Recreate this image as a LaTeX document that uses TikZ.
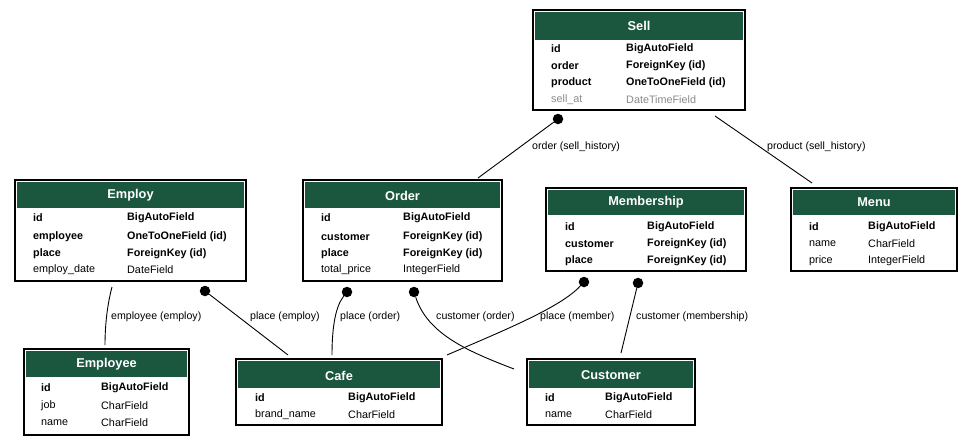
\documentclass[tikz,border=0pt]{standalone}
\usepackage{fontspec}
\setmainfont{Liberation Sans}
\definecolor{hdrgreen}{HTML}{1B563F}
\definecolor{dimtext}{HTML}{8A8A8A}
\tikzset{
  tbl/.style={draw=black, line width=1.2pt, fill=white, inner sep=0pt, outer sep=0pt},
  hdr/.style={fill=hdrgreen},
  htext/.style={text=white, font=\fontsize{12.8}{14}\selectfont\bfseries, anchor=center, inner sep=0pt, yshift=-0.5pt},
  fk/.style={font=\fontsize{10.8}{12}\selectfont\bfseries, anchor=west, inner sep=0pt, yshift=-1pt},
  fn/.style={font=\fontsize{10.8}{12}\selectfont, anchor=west, inner sep=0pt, yshift=-1pt},
  fg/.style={font=\fontsize{10.8}{12}\selectfont, text=dimtext, anchor=west, inner sep=0pt, yshift=-1pt},
  elabel/.style={font=\fontsize{10.6}{12}\selectfont, anchor=west, inner sep=0pt, yshift=-0.5pt},
  dot/.style={circle, fill=black, minimum size=10.5pt, inner sep=0pt},
  conn/.style={draw=black, line width=0.9pt},
}
\newcommand{\ertable}[6]{%
  \node[tbl, minimum width={#4-#2}, minimum height={#5-#3}, anchor=north west] (#1) at (#2,#3) {};
  \fill[hdr] (#2+2.2,#3+2.2) rectangle (#4-2.2,#6);
}
\begin{document}
\begin{tikzpicture}[x=1pt,y=-1pt]
\useasboundingbox (0,0) rectangle (973,445);

% Sell
\ertable{sell}{533}{10}{745}{110}{40}
\node[htext] (sellh) at (639,25) {Sell};
\node[fk] (sell1a) at (551,48) {id};        \node[fk] (sell1b) at (626,48) {BigAutoField};
\node[fk] (sell2a) at (551,65) {order};     \node[fk] (sell2b) at (626,65) {ForeignKey (id)};
\node[fk] (sell3a) at (551,82) {product};   \node[fk] (sell3b) at (626,82) {OneToOneField (id)};
\node[fg] (sell4a) at (551,99) {sell\_at};  \node[fg] (sell4b) at (626,99) {DateTimeField};

% Employ
\ertable{employ}{15}{180}{246}{281}{208}
\node[htext] (employh) at (130.5,195) {Employ};
\node[fk] (emp1a) at (33,217) {id};          \node[fk] (emp1b) at (127,217) {BigAutoField};
\node[fk] (emp2a) at (33,236) {employee};    \node[fk] (emp2b) at (127,236) {OneToOneField (id)};
\node[fk] (emp3a) at (33,253) {place};       \node[fk] (emp3b) at (127,253) {ForeignKey (id)};
\node[fn] (emp4a) at (33,269) {employ\_date};\node[fn] (emp4b) at (127,269) {DateField};

% Order
\ertable{order}{303}{180}{502}{281}{208}
\node[htext] (orderh) at (402.5,195) {Order};
\node[fk] (ord1a) at (321,217) {id};           \node[fk] (ord1b) at (403,217) {BigAutoField};
\node[fk] (ord2a) at (321,236) {customer};     \node[fk] (ord2b) at (403,236) {ForeignKey (id)};
\node[fk] (ord3a) at (321,253) {place};        \node[fk] (ord3b) at (403,253) {ForeignKey (id)};
\node[fn] (ord4a) at (321,269) {total\_price}; \node[fn] (ord4b) at (403,269) {IntegerField};

% Membership
\ertable{membership}{546}{188}{746}{271}{215}
\node[htext] (memh) at (646,202) {Membership};
\node[fk] (mem1a) at (565,226) {id};        \node[fk] (mem1b) at (647,226) {BigAutoField};
\node[fk] (mem2a) at (565,243) {customer};  \node[fk] (mem2b) at (647,243) {ForeignKey (id)};
\node[fk] (mem3a) at (565,260) {place};     \node[fk] (mem3b) at (647,260) {ForeignKey (id)};

% Menu
\ertable{menu}{791}{188}{957}{271}{215}
\node[htext] (menuh) at (874,202) {Menu};
\node[fk] (menu1a) at (809,226) {id};     \node[fk] (menu1b) at (868,226) {BigAutoField};
\node[fn] (menu2a) at (809,243) {name};   \node[fn] (menu2b) at (868,243) {CharField};
\node[fn] (menu3a) at (809,260) {price};  \node[fn] (menu3b) at (868,260) {IntegerField};

% Employee
\ertable{employee}{24}{349}{189}{435}{377}
\node[htext] (eeh) at (106.5,364) {Employee};
\node[fk] (ee1a) at (41,387) {id};    \node[fk] (ee1b) at (101,387) {BigAutoField};
\node[fn] (ee2a) at (41,405) {job};   \node[fn] (ee2b) at (101,405) {CharField};
\node[fn] (ee3a) at (41,422) {name};  \node[fn] (ee3b) at (101,422) {CharField};

% Cafe
\ertable{cafe}{236}{359}{442}{425}{388}
\node[htext] (cafeh) at (339,375) {Cafe};
\node[fk] (cafe1a) at (255,397) {id};          \node[fk] (cafe1b) at (348,397) {BigAutoField};
\node[fn] (cafe2a) at (255,414) {brand\_name}; \node[fn] (cafe2b) at (348,414) {CharField};

% Customer
\ertable{customer}{527}{359}{695}{425}{388}
\node[htext] (custh) at (611,375) {Customer};
\node[fk] (cust1a) at (545,397) {id};    \node[fk] (cust1b) at (605,397) {BigAutoField};
\node[fn] (cust2a) at (545,414) {name};  \node[fn] (cust2b) at (605,414) {CharField};

% connector ends
\node[dot] (dso) at (558,119) {};
\coordinate (eso) at (478,178);
\coordinate (sps) at (715,116);
\coordinate (eps) at (812,183);
\coordinate (see) at (112,287);
\coordinate (eee) at (105,345);
\node[dot] (dpe) at (205,291) {};
\coordinate (epe) at (288,355);
\node[dot] (dpo) at (347,292) {};
\coordinate (epo) at (332,355);
\node[dot] (dco) at (414,292) {};
\coordinate (eco) at (514,369);
\node[dot] (dpm) at (584,282) {};
\coordinate (epm) at (447,355);
\node[dot] (dcm) at (638,283) {};
\coordinate (ecm) at (621,353);

\draw[conn] (dso) -- (eso);
\draw[conn] (sps) -- (eps);
\draw[conn] (see) .. controls (108,302) and (105,322) .. (eee);
\draw[conn] (dpe) -- (epe);
\draw[conn] (dpo) .. controls (336,306) and (332,325) .. (epo);
\draw[conn] (dco) .. controls (428,335) and (470,352) .. (eco);
\draw[conn] (dpm) .. controls (560,308) and (500,332) .. (epm);
\draw[conn] (dcm) -- (ecm);

% edge labels
\node[elabel] (l1) at (532,146) {order (sell\_history)};
\node[elabel] (l2) at (767,146) {product (sell\_history)};
\node[elabel] (l3) at (111,316) {employee (employ)};
\node[elabel] (l4) at (250,316) {place (employ)};
\node[elabel] (l5) at (340,316) {place (order)};
\node[elabel] (l6) at (436,316) {customer (order)};
\node[elabel] (l7) at (540,316) {place (member)};
\node[elabel] (l8) at (636,316) {customer (membership)};
\end{tikzpicture}
\end{document}
